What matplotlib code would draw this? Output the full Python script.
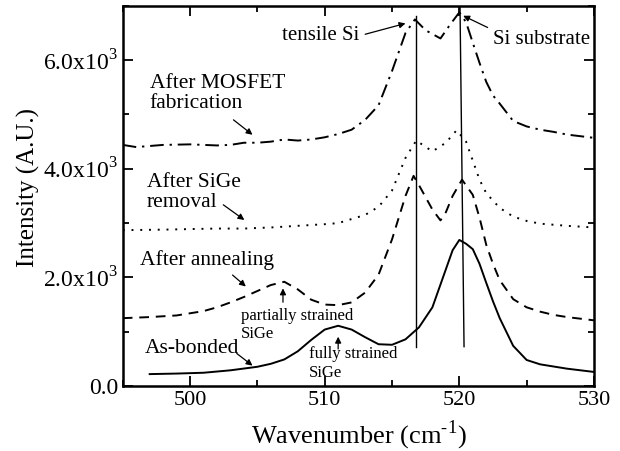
import numpy as np
import matplotlib.pyplot as plt
from matplotlib.ticker import MultipleLocator, FixedFormatter, FixedLocator

plt.rcParams['font.family'] = ['Liberation Serif', 'DejaVu Serif']
plt.rcParams['mathtext.fontset'] = 'custom'
plt.rcParams['mathtext.rm'] = 'Liberation Serif'

# As-bonded (solid)
x_bond = [497, 499, 501, 503, 505, 506, 507, 508, 509, 510, 511, 512, 513, 514, 515,
          516, 517, 518, 519, 519.5, 520, 520.5, 521, 521.5, 522, 522.5, 523, 524,
          525, 526, 527, 528, 529, 530]
y_bond = [220, 230, 245, 290, 355, 410, 490, 640, 850, 1040, 1110, 1040, 900, 770, 760,
          860, 1080, 1450, 2150, 2500, 2690, 2620, 2520, 2250, 1900, 1560, 1250, 740,
          480, 400, 360, 320, 290, 260]

# After annealing (dashed)
x_ann = [495, 497, 499, 501, 502, 503, 504, 505, 506, 507, 508, 509, 510, 511, 512,
         513, 514, 515, 516, 516.6, 517, 518, 518.6, 519, 519.5, 520.2, 521, 521.5,
         522, 522.5, 523, 524, 525, 526, 527, 528, 529, 530]
y_ann = [1250, 1270, 1300, 1380, 1450, 1540, 1640, 1750, 1860, 1920, 1780, 1590, 1500,
         1490, 1540, 1720, 2050, 2700, 3500, 3870, 3700, 3250, 3050, 3200, 3500, 3800,
         3520, 3100, 2600, 2250, 1950, 1600, 1450, 1370, 1310, 1270, 1240, 1210]

# After SiGe removal (dotted)
x_rem = [495, 498, 500, 502, 504, 506, 508, 510, 511, 513, 514, 515, 516, 516.8, 518,
         519, 519.8, 520.5, 521, 521.5, 522, 523, 524, 525, 526, 528, 530]
y_rem = [2870, 2880, 2890, 2900, 2900, 2920, 2950, 2980, 3000, 3150, 3300, 3600, 4200,
         4520, 4320, 4480, 4710, 4500, 4150, 3800, 3550, 3280, 3120, 3040, 2990, 2950,
         2920]

# After MOSFET fabrication (dash-dot)
x_mos = [495, 496, 497, 498, 500, 502, 503, 504, 505, 506, 507, 508, 509, 510, 511,
         512, 513, 514, 515, 516, 516.7, 517.5, 518.6, 519.3, 520, 520.5, 521, 521.5,
         522, 522.5, 523, 524, 525, 526, 527, 528, 529, 530]
y_mos = [4440, 4400, 4420, 4440, 4450, 4430, 4440, 4480, 4480, 4500, 4540, 4520, 4540,
         4580, 4640, 4720, 4900, 5170, 5800, 6500, 6750, 6550, 6400, 6650, 6880, 6700,
         6320, 5950, 5600, 5350, 5200, 4880, 4780, 4720, 4680, 4630, 4600, 4570]

# peak marker lines
peak_tensile = 516.75
peak_sub = (520.05, 520.35)

fig = plt.figure(figsize=(6.2, 4.51), dpi=100)
ax = fig.add_axes([0.198, 0.144, 0.76, 0.843])

ax.plot(x_bond, y_bond, color='black', lw=1.4, ls='-')
ax.plot(x_ann, y_ann, color='black', lw=1.4, ls=(0, (5, 3.5)))
ax.plot(x_rem, y_rem, color='black', lw=1.4, ls=(0, (1, 3.5)))
ax.plot(x_mos, y_mos, color='black', lw=1.4, ls=(0, (7, 3, 1.2, 3)))

ax.plot([peak_tensile, peak_tensile], [725, 6820], color='black', lw=1.0)
ax.plot([peak_sub[0], peak_sub[1]], [7000, 725], color='black', lw=1.0)

ax.set_xlim(495, 530)
ax.set_ylim(0, 7000)
ax.xaxis.set_major_locator(MultipleLocator(10))
ax.xaxis.set_minor_locator(MultipleLocator(5))
ax.yaxis.set_major_locator(FixedLocator([0, 2000, 4000, 6000]))
ax.yaxis.set_major_formatter(FixedFormatter(['0.0', r'2.0x10$^3$', r'4.0x10$^3$', r'6.0x10$^3$']))
ax.yaxis.set_minor_locator(MultipleLocator(1000))
ax.tick_params(which='both', direction='in', top=True, right=True, labelsize=16, width=1.3)
ax.tick_params(axis='y', labelsize=17)
ax.tick_params(which='major', length=7)
ax.tick_params(which='minor', length=4)
for s in ax.spines.values():
    s.set_linewidth(1.8)

ax.set_xlabel('Wavenumber (cm$^{\u2010 1}$)', fontsize=19, labelpad=6)
ax.set_ylabel('Intensity (A.U.)', fontsize=18)
ax.yaxis.set_label_coords(-0.176, 0.522)

arr = dict(arrowstyle='-|>', color='black', lw=0.9, mutation_scale=9)
ax.annotate('tensile Si', xy=(516.2, 6690), xytext=(512.6, 6450), ha='right', va='center',
            fontsize=15, arrowprops=dict(arr, relpos=(1.0, 0.5)))
ax.annotate('Si substrate', xy=(520.1, 6840), xytext=(526.1, 6380), ha='center', va='center',
            fontsize=15, arrowprops=dict(arr, relpos=(0.0, 1.0)))
ax.text(497.0, 5382, 'After MOSFET\nfabrication', fontsize=15.5, va='center', linespacing=1.1)
ax.annotate('', xy=(504.8, 4595), xytext=(503.06, 4933), arrowprops=arr)
ax.text(496.8, 3566, 'After SiGe\nremoval', fontsize=15.5, va='center', linespacing=1.1)
ax.annotate('', xy=(504.2, 3028), xytext=(502.3, 3367), arrowprops=arr)
ax.text(496.3, 2322, 'After annealing', fontsize=15.5, va='center')
ax.annotate('', xy=(504.3, 1800), xytext=(503.0, 2077), arrowprops=arr)
ax.text(503.8, 1124, 'partially strained\nSiGe', fontsize=12, va='center', linespacing=1.2)
ax.annotate('', xy=(506.9, 1850), xytext=(506.9, 1493), arrowprops=arr)
ax.text(496.6, 695, 'As-bonded', fontsize=15.5, va='center')
ax.annotate('', xy=(504.8, 345), xytext=(503.3, 632), arrowprops=arr)
ax.text(508.8, 418, 'fully strained\nSiGe', fontsize=12, va='center', linespacing=1.2)
ax.annotate('', xy=(511.0, 960), xytext=(511.0, 632), arrowprops=arr)

plt.savefig('out.png', dpi=100)
